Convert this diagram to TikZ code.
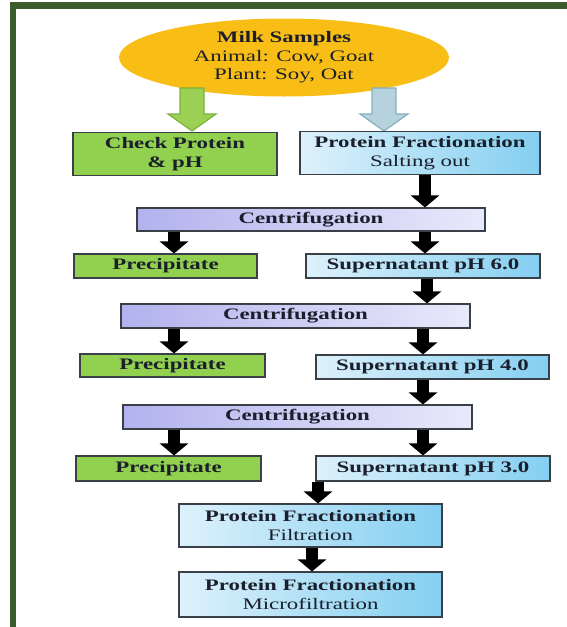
\documentclass[tikz,border=0pt]{standalone}
\usepackage{fontspec}
\setmainfont{Liberation Serif}[FakeStretch=1.43]
\usetikzlibrary{arrows.meta,shapes.geometric}

\definecolor{frameclr}{HTML}{3D5C2B}
\definecolor{goldfill}{HTML}{F9BE16}
\definecolor{leaf}{HTML}{92D050}
\definecolor{skyL}{HTML}{DDF1FB}
\definecolor{skyR}{HTML}{84CFF1}
\definecolor{lavL}{HTML}{B2B2EE}
\definecolor{lavR}{HTML}{E9E9FB}
\definecolor{edge}{HTML}{3A4048}
\definecolor{ink}{HTML}{1A1F2B}
\definecolor{hgreenfill}{HTML}{9BD055}
\definecolor{hgreenline}{HTML}{7DB23C}
\definecolor{hbluefill}{HTML}{B6D3DD}
\definecolor{hblueline}{HTML}{88AEBE}

\tikzset{
  box/.style={draw=edge, line width=1.1pt, inner sep=0pt, align=center,
              text=ink, font=\fontsize{16}{19.5}\selectfont},
  greenbox/.style={box, fill=leaf},
  bluebox/.style={box, left color=skyL, right color=skyR},
  spinbox/.style={box, left color=lavL, right color=lavR},
  blk/.style={line width=12pt, -{Triangle[width=28pt,length=12pt]}, black},
  hollowgreen/.style={fill=hgreenfill, draw=hgreenline, line width=1.2pt, line join=miter},
  hollowblue/.style={fill=hbluefill, draw=hblueline, line width=1.2pt, line join=miter}
}

\begin{document}
\begin{tikzpicture}[x=1pt, y=-1pt]
  % canvas and frame
  \useasboundingbox[fill=white] (0,0) rectangle (567,627);
  \fill[frameclr] (10,2) rectangle (567,9);
  \fill[frameclr] (10,2) rectangle (16,627);

  % source samples
  \node[ellipse, fill=goldfill, minimum width=330pt, minimum height=78pt,
        inner sep=0pt, align=center, text=ink, font=\fontsize{16}{18.5}\selectfont]
        (milk) at (284,57.5)
        {\textbf{Milk Samples}\\Animal: Cow, Goat\\Plant: Soy, Oat};

  % wide hollow arrows out of the samples
  \draw[hollowgreen] (180,88) -- (204,88) -- (204,114) -- (216,114) -- (192,131)
        -- (168,114) -- (180,114) -- cycle;
  \draw[hollowblue] (372,88) -- (396,88) -- (396,114) -- (408,114) -- (384,131)
        -- (360,114) -- (372,114) -- cycle;

  % first level
  \node[greenbox, minimum width=204pt, minimum height=43pt] (chk) at (175,154)
        {\textbf{Check Protein}\\\textbf{\& pH}};
  \node[bluebox, minimum width=240pt, minimum height=43pt] (salt) at (420,153)
        {\textbf{Protein Fractionation}\\Salting out};

  % centrifugation rounds
  \node[spinbox, minimum width=348pt, minimum height=23pt] (c1) at (311,219.5)
        {\textbf{Centrifugation}};
  \node[greenbox, minimum width=183pt, minimum height=24pt] (p1) at (165.5,266)
        {\textbf{Precipitate}};
  \node[bluebox, minimum width=234pt, minimum height=24pt] (s6) at (423,266)
        {\textbf{Supernatant pH 6.0}};

  \node[spinbox, minimum width=349pt, minimum height=24pt] (c2) at (295.5,316)
        {\textbf{Centrifugation}};
  \node[greenbox, minimum width=185pt, minimum height=23pt] (p2) at (172.5,365.5)
        {\textbf{Precipitate}};
  \node[bluebox, minimum width=233pt, minimum height=24pt] (s4) at (432.5,367)
        {\textbf{Supernatant pH 4.0}};

  \node[spinbox, minimum width=349pt, minimum height=24pt] (c3) at (297.5,417)
        {\textbf{Centrifugation}};
  \node[greenbox, minimum width=185pt, minimum height=25pt] (p3) at (168.5,468.5)
        {\textbf{Precipitate}};
  \node[bluebox, minimum width=234pt, minimum height=25pt] (s3) at (433,468.5)
        {\textbf{Supernatant pH 3.0}};

  % final fractionation steps
  \node[bluebox, minimum width=263pt, minimum height=43pt] (filt) at (310.5,525.5)
        {\textbf{Protein Fractionation}\\Filtration};
  \node[bluebox, minimum width=263pt, minimum height=45pt] (micro) at (310.5,594.5)
        {\textbf{Protein Fractionation}\\Microfiltration};

  % arrow columns
  \coordinate (colL) at (174,0);
  \coordinate (colA) at (425,0);
  \coordinate (colB) at (427,0);
  \coordinate (colC) at (423,0);
  \coordinate (colD) at (318,0);
  \coordinate (colE) at (312,0);

  % black flow arrows
  \draw[blk] (salt.south -| colA) -- (c1.north -| colA);
  \draw[blk] (c1.south -| colL) -- (p1.north -| colL);
  \draw[blk] (c1.south -| colA) -- (s6.north -| colA);
  \draw[blk] (s6.south -| colB) -- (c2.north -| colB);
  \draw[blk] (c2.south -| colL) -- (p2.north -| colL);
  \draw[blk] (c2.south -| colC) -- (s4.north -| colC);
  \draw[blk] (s4.south -| colC) -- (c3.north -| colC);
  \draw[blk] (c3.south -| colL) -- (p3.north -| colL);
  \draw[blk] (c3.south -| colC) -- (s3.north -| colC);
  \draw[blk] (s3.south -| colD) -- (filt.north -| colD);
  \draw[blk] (filt.south -| colE) -- (micro.north -| colE);
\end{tikzpicture}
\end{document}
